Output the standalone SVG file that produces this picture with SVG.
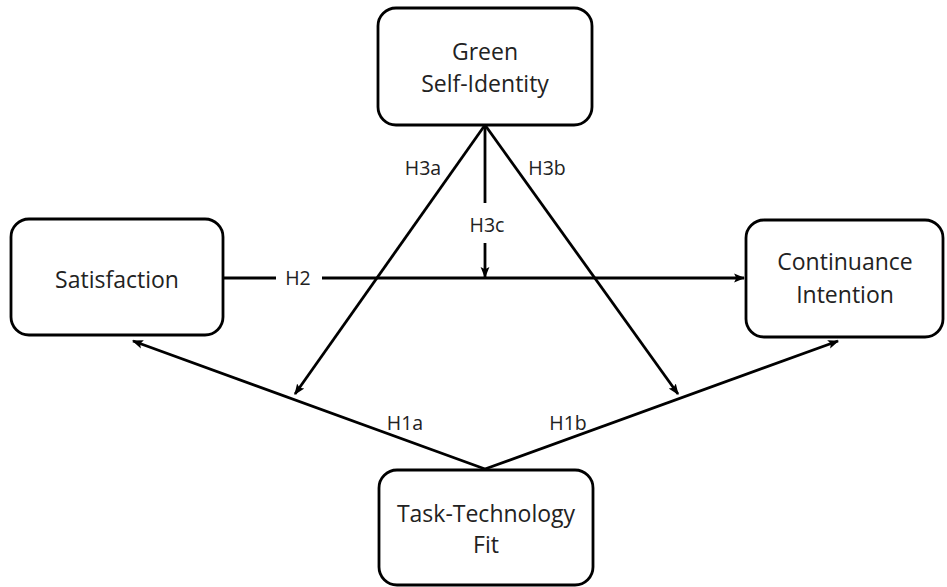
<svg xmlns="http://www.w3.org/2000/svg" width="947" height="587" viewBox="0 0 947 587">
  <style>
    .box { fill: #ffffff; stroke: #000000; stroke-width: 2.8; }
    .lbl { font-family: "Open Sans", "Liberation Sans", sans-serif; font-size: 23px; fill: #222222; text-anchor: middle; }
    .hyp { font-family: "Open Sans", "Liberation Sans", sans-serif; font-size: 19.5px; fill: #222222; text-anchor: middle; }
    .edge { stroke: #000000; stroke-width: 2.8; fill: none; }
  </style>
  <defs>
    <marker id="arrow" viewBox="0 0 10 10" refX="9" refY="5" markerWidth="11" markerHeight="11" markerUnits="userSpaceOnUse" orient="auto">
      <path d="M0,1 L10,5 L0,9 L2,5 Z" fill="#000000"/>
    </marker>
  </defs>

  <rect width="947" height="587" fill="#ffffff"/>

  <!-- connectors -->
  <g id="connectors">
    <!-- H2: Satisfaction -> Continuance Intention -->
    <line class="edge" x1="223" y1="278" x2="276" y2="278"/>
    <line class="edge" x1="322" y1="278" x2="744" y2="278" marker-end="url(#arrow)"/>
    <!-- H3c: moderation onto H2 -->
    <line class="edge" x1="485" y1="125" x2="485" y2="203"/>
    <line class="edge" x1="485" y1="243" x2="485" y2="277" marker-end="url(#arrow)"/>
    <!-- H3a / H3b -->
    <line class="edge" x1="485" y1="125" x2="295" y2="394" marker-end="url(#arrow)"/>
    <line class="edge" x1="485" y1="125" x2="678" y2="394" marker-end="url(#arrow)"/>
    <!-- H1a / H1b -->
    <line class="edge" x1="485" y1="469" x2="133" y2="341" marker-end="url(#arrow)"/>
    <line class="edge" x1="485" y1="469" x2="838" y2="341" marker-end="url(#arrow)"/>
  </g>

  <!-- hypothesis labels -->
  <g id="labels">
    <text class="hyp" x="298" y="285">H2</text>
    <text class="hyp" x="487" y="232">H3c</text>
    <text class="hyp" x="423" y="175">H3a</text>
    <text class="hyp" x="547" y="175">H3b</text>
    <text class="hyp" x="405" y="430">H1a</text>
    <text class="hyp" x="568" y="430">H1b</text>
  </g>

  <g id="green-self-identity">
    <rect class="box" x="378" y="8" width="214" height="117" rx="18"/>
    <text class="lbl" x="485" y="60">Green</text>
    <text class="lbl" x="485" y="92">Self-Identity</text>
  </g>

  <g id="satisfaction">
    <rect class="box" x="11" y="219" width="212" height="116" rx="18"/>
    <text class="lbl" x="117" y="288">Satisfaction</text>
  </g>

  <g id="continuance-intention">
    <rect class="box" x="746" y="220" width="197" height="117" rx="18"/>
    <text class="lbl" x="845" y="270">Continuance</text>
    <text class="lbl" x="845" y="303">Intention</text>
  </g>

  <g id="task-technology-fit">
    <rect class="box" x="379" y="470" width="214" height="115" rx="18"/>
    <text class="lbl" x="486" y="522">Task-Technology</text>
    <text class="lbl" x="486" y="553">Fit</text>
  </g>
</svg>
